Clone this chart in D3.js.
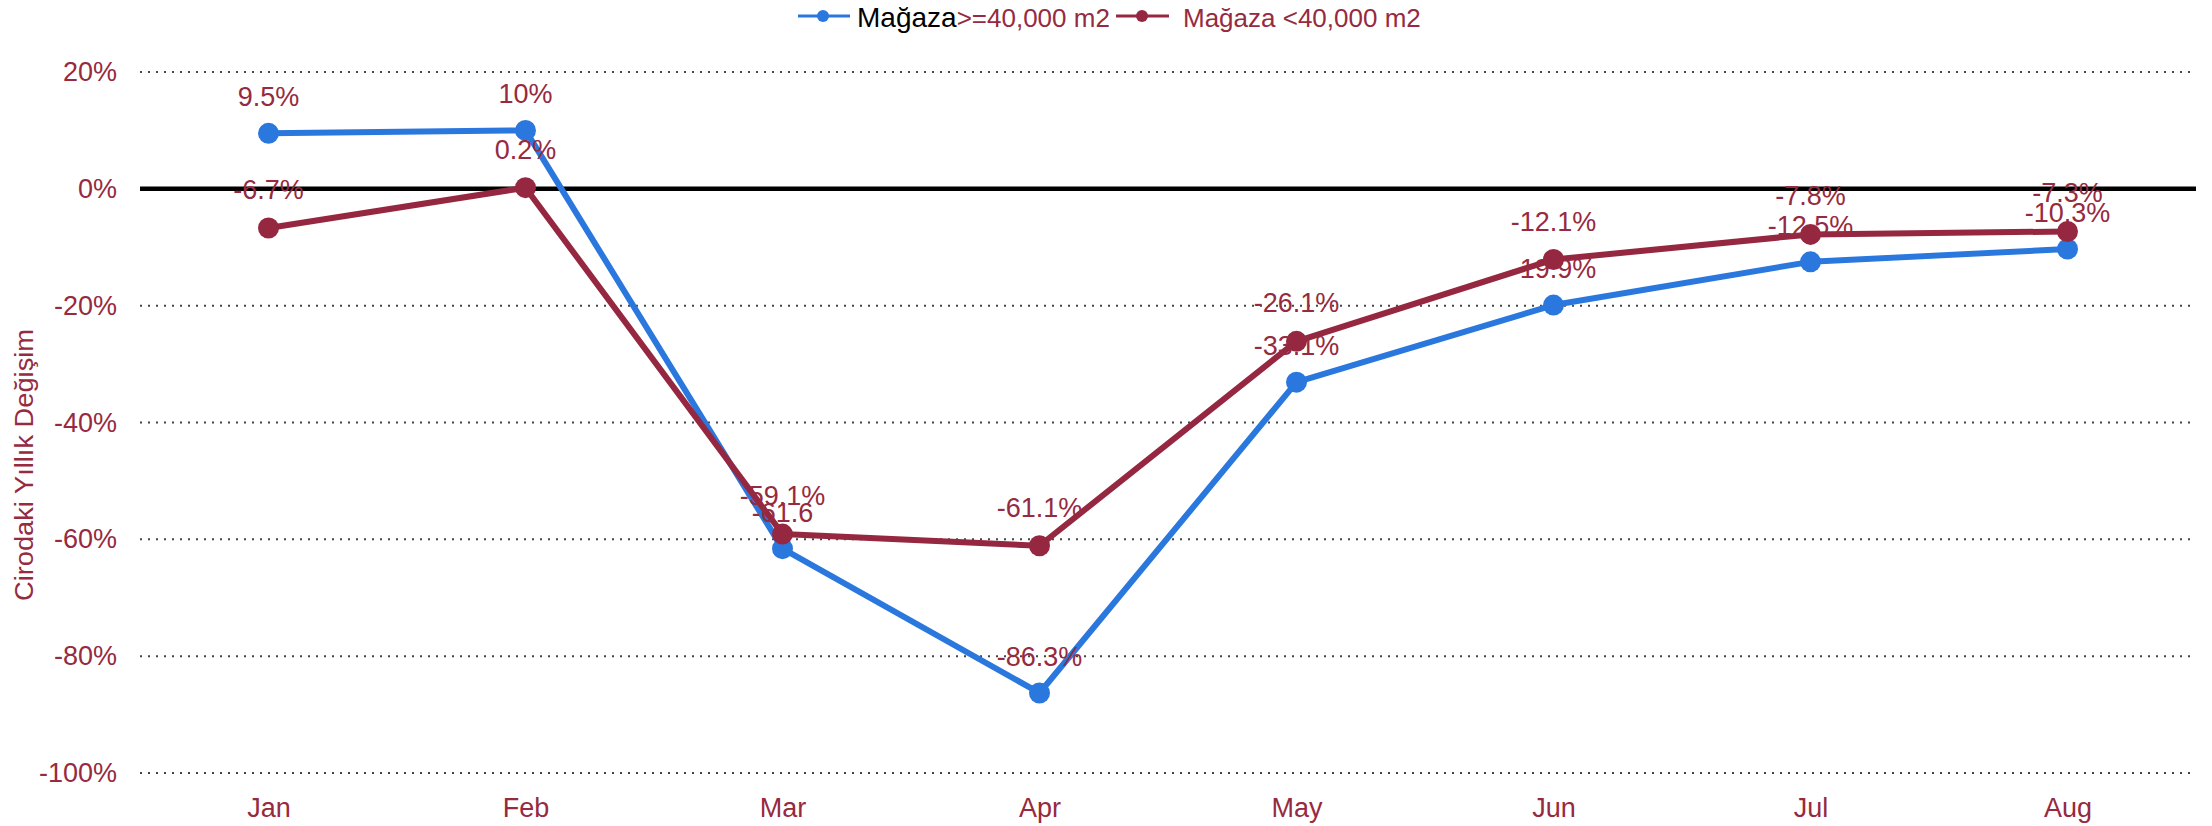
<!DOCTYPE html>
<html>
<head>
<meta charset="utf-8">
<script src="https://cdn.jsdelivr.net/npm/d3@7"></script>
<style>
  body { margin: 0; background: #fff; }
  svg { display: block; font-family: "Liberation Sans", Arial, sans-serif; }
</style>
</head>
<body>
<script>
// data
var months = ["Jan", "Feb", "Mar", "Apr", "May", "Jun", "Jul", "Aug"];
var bigStore = [9.5, 10, -61.6, -86.3, -33.1, -19.9, -12.5, -10.3];     // Mağaza >=40,000 m2
var smallStore = [-6.7, 0.2, -59.1, -61.1, -26.1, -12.1, -7.8, -7.3];   // Mağaza <40,000 m2
var bigLabels = ["9.5%", "10%", "-61.6", "-86.3%", "-33.1%", "-19.9%", "-12.5%", "-10.3%"];
var yTicks = [20, 0, -20, -40, -60, -80, -100];

var W = 2212, H = 826;
var blue = "#2a78de", red = "#952840", txt = "#962a40";

var svg = d3.select("body").append("svg")
	.attr("width", W)
	.attr("height", H);

//scales
var x = d3.scalePoint().domain(months).range([140, 2196]).padding(0.5);
var y = d3.scaleLinear().domain([-100, 20]).range([773, 72]);

//--grid lines
svg.append("g").selectAll("line")
	.data(yTicks.filter(function (d) { return d !== 0; }))
	.join("line")
	.attr("x1", 140).attr("x2", 2196)
	.attr("y1", function (d) { return y(d); })
	.attr("y2", function (d) { return y(d); })
	.style("stroke", "#444")
	.style("stroke-width", 2)
	.style("stroke-dasharray", "2,6");

svg.append("line")
	.attr("x1", 140).attr("x2", 2196)
	.attr("y1", y(0)).attr("y2", y(0))
	.style("stroke", "#000")
	.style("stroke-width", 4.5);

//--y axis
var yAxis = svg.append("g")
	.attr("transform", "translate(117,0)")
	.call(d3.axisLeft(y).tickValues(yTicks).tickSize(0).tickPadding(0)
		.tickFormat(function (d) { return d + "%"; }));
yAxis.select(".domain").remove();
yAxis.selectAll("text")
	.attr("font-size", 27)
	.attr("font-family", "Liberation Sans, Arial, sans-serif")
	.attr("fill", txt);

//--x axis
var xAxis = svg.append("g")
	.attr("transform", "translate(0,798)")
	.call(d3.axisBottom(x).tickSize(0).tickPadding(0));
xAxis.select(".domain").remove();
xAxis.selectAll("text")
	.attr("font-size", 27)
	.attr("font-family", "Liberation Sans, Arial, sans-serif")
	.attr("fill", txt)
	.attr("dy", "0.71em");

//y title
svg.append("text")
	.attr("transform", "translate(33,465) rotate(-90)")
	.attr("text-anchor", "middle")
	.attr("font-size", 25)
	.attr("textLength", 272)
	.attr("lengthAdjust", "spacingAndGlyphs")
	.attr("fill", txt)
	.text("Cirodaki Yıllık Değişim");

//--lines
var line = d3.line()
	.x(function (d, i) { return x(months[i]); })
	.y(function (d) { return y(d); });

function drawSeries(vals, color) {
	svg.append("path")
		.datum(vals)
		.attr("d", line)
		.style("fill", "none")
		.style("stroke", color)
		.style("stroke-width", 6)
		.style("stroke-linejoin", "round");
	svg.append("g").selectAll("circle")
		.data(vals)
		.join("circle")
		.attr("cx", function (d, i) { return x(months[i]); })
		.attr("cy", function (d) { return y(d); })
		.attr("r", 10.5)
		.style("fill", color);
}
drawSeries(bigStore, blue);
drawSeries(smallStore, red);

//--labels
function drawLabels(vals, labels, off) {
	svg.append("g").selectAll("text")
		.data(vals)
		.join("text")
		.attr("x", function (d, i) { return x(months[i]); })
		.attr("y", function (d) { return y(d) - off; })
		.attr("text-anchor", "middle")
		.attr("font-size", 27)
		.attr("fill", txt)
		.text(function (d, i) { return labels ? labels[i] : d + "%"; });
}
drawLabels(bigStore, bigLabels, 27);
drawLabels(smallStore, null, 29);

//--legend
var lg = svg.append("g");
lg.append("line").attr("x1", 798).attr("x2", 850).attr("y1", 16).attr("y2", 16)
	.style("stroke", blue).style("stroke-width", 3);
lg.append("circle").attr("cx", 823).attr("cy", 16).attr("r", 6).style("fill", blue);
var t1 = lg.append("text").attr("x", 857).attr("y", 27);
t1.append("tspan").attr("font-size", 28).attr("fill", "#000").text("Mağaza");
t1.append("tspan").attr("font-size", 26).attr("fill", txt).text(">=40,000 m2");

lg.append("line").attr("x1", 1116).attr("x2", 1169).attr("y1", 16).attr("y2", 16)
	.style("stroke", red).style("stroke-width", 3);
lg.append("circle").attr("cx", 1142).attr("cy", 16).attr("r", 6).style("fill", red);
lg.append("text").attr("x", 1183).attr("y", 27)
	.attr("font-size", 26).attr("fill", txt)
	.text("Mağaza <40,000 m2");
</script>
</body>
</html>
